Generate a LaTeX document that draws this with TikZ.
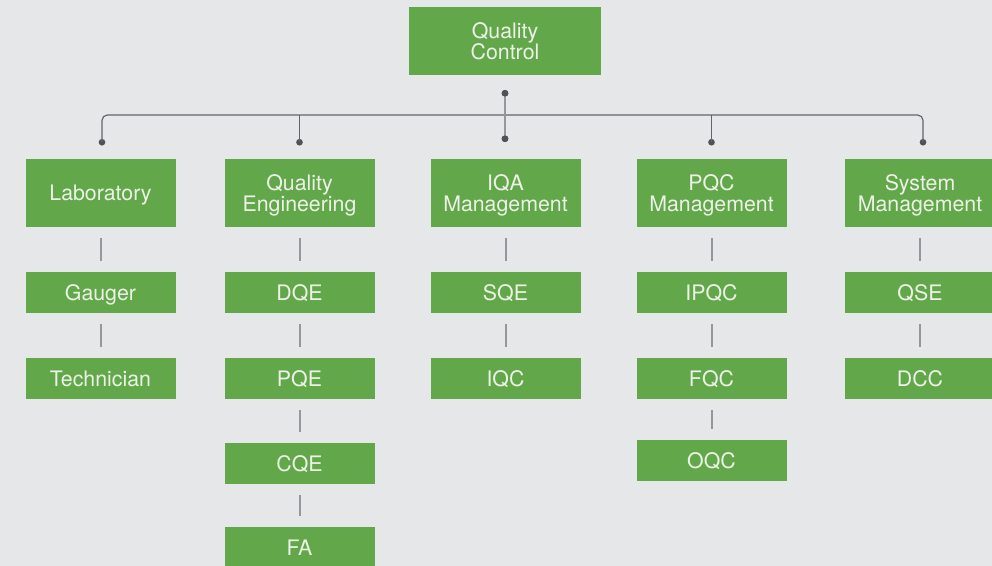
\documentclass[tikz,border=0pt]{standalone}
\usepackage{fontspec}
\setmainfont{TeX Gyre Heros}
\usetikzlibrary{calc}
\definecolor{bgcol}{RGB}{230,231,233}
\definecolor{boxgreen}{RGB}{98,168,75}
\definecolor{boxtext}{RGB}{236,242,230}
\definecolor{busgray}{RGB}{100,101,104}
\definecolor{dotgray}{RGB}{80,81,84}
\definecolor{linkgray}{RGB}{150,151,154}

\begin{document}
\begin{tikzpicture}[x=0.75pt,y=0.75pt,yscale=-1,xscale=1,
	box/.style={fill=boxgreen,text=boxtext,minimum width=112.5pt,inner sep=0pt,text depth=0pt,align=center,font=\fontsize{16}{15.3}\selectfont},
	headbox/.style={box,minimum height=51pt},
	subbox/.style={box,minimum height=30.75pt},
	bus/.style={draw=busgray,line width=0.9pt,rounded corners=4pt},
	stem/.style={draw=linkgray,line width=1.4pt},
	link/.style={draw=linkgray,line width=1.5pt},
	tip/.style={fill=dotgray,circle,inner sep=0pt,minimum size=5pt}]
	
	%background
	\fill[bgcol] (0,0) rectangle (992,566);
	\useasboundingbox (0,0) rectangle (992,566);
	
	%Top box
	\node[headbox,minimum width=144pt] (qc) at (505,41) {Quality\\Control};
	
	%Head boxes
	\node[headbox] (lab) at (100.5,193) {Laboratory};
	\node[headbox] (qe) at (299.5,193) {Quality\\Engineering};
	\node[headbox] (iqa) at (505.5,193) {IQA\\Management};
	\node[headbox] (pqc) at (711.5,193) {PQC\\Management};
	\node[headbox] (sys) at (920,193) {System\\Management};
	
	%Laboratory column
	\node[subbox] (gau) at (100.5,292.5) {Gauger};
	\node[subbox] (tec) at (100.5,378.5) {Technician};
	%Quality Engineering column
	\node[subbox] (dqe) at (299.5,292.5) {DQE};
	\node[subbox] (pqe) at (299.5,378.5) {PQE};
	\node[subbox] (cqe) at (299.5,463.5) {CQE};
	\node[subbox] (fa) at (299.5,547.5) {FA};
	%IQA column
	\node[subbox] (sqe) at (505.5,292.5) {SQE};
	\node[subbox] (iqc) at (505.5,378.5) {IQC};
	%PQC column
	\node[subbox] (ipqc) at (711.5,292.5) {IPQC};
	\node[subbox] (fqc) at (711.5,378.5) {FQC};
	\node[subbox] (oqc) at (711.5,460.5) {OQC};
	%System column
	\node[subbox] (qse) at (920,292.5) {QSE};
	\node[subbox] (dcc) at (920,378.5) {DCC};
	
	%Dots
	\node[tip] (qcdot) at ($(qc.south)+(0,18)$) {};
	\node[tip] (iqadot) at ($(iqa.north)+(-0.5,-20)$) {};
	\node[tip] (labdot) at ($(lab.north)+(1.5,-16.5)$) {};
	\node[tip] (qedot) at ($(qe.north)+(0,-16.5)$) {};
	\node[tip] (pqcdot) at ($(pqc.north)+(0,-16.5)$) {};
	\node[tip] (sysdot) at ($(sys.north)+(3,-16.5)$) {};
	\coordinate (busmid) at (505,115);
	
	%Bus
	\draw[bus] (labdot.center) |- (busmid) -| (sysdot.center);
	\draw[bus] (qedot.center) -- (qedot |- busmid);
	\draw[bus] (pqcdot.center) -- (pqcdot |- busmid);
	\draw[stem] (qcdot.center) -- (iqadot.center);
	\node[tip] at (qcdot) {};
	\node[tip] at (iqadot) {};
	
	%Links
	\foreach \a/\b in {lab/gau,gau/tec,qe/dqe,dqe/pqe,pqe/cqe,cqe/fa,iqa/sqe,sqe/iqc,pqc/ipqc,ipqc/fqc,fqc/oqc,sys/qse,qse/dcc}
		\draw[link] ($(\a.south)+(0,11)$) -- ($(\b.north)+(0,-11)$);
	
\end{tikzpicture}
\end{document}
